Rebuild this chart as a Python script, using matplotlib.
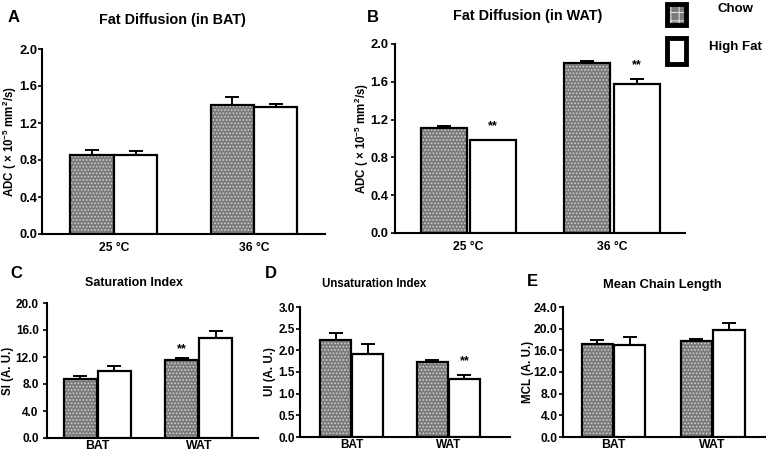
import matplotlib
matplotlib.use("Agg")
import matplotlib.pyplot as plt
import numpy as np
from matplotlib.patches import Rectangle

plt.rcParams['font.family'] = ['Liberation Sans', 'DejaVu Sans']
plt.rcParams['font.weight'] = 'bold'
plt.rcParams['mathtext.fontset'] = 'custom'
plt.rcParams['mathtext.rm'] = 'Liberation Sans:bold'
plt.rcParams['mathtext.it'] = 'Liberation Sans:bold'
plt.rcParams['mathtext.bf'] = 'Liberation Sans:bold'
plt.rcParams['hatch.linewidth'] = 0.8

# ---------------- data ----------------
temps = ["25 °C", "36 °C"]
tissues = ["BAT", "WAT"]
series = ["Chow", "High Fat"]

bat_adc_chow = [0.85, 1.40]
bat_adc_chow_err = [0.06, 0.08]
bat_adc_hf = [0.85, 1.37]
bat_adc_hf_err = [0.05, 0.04]

wat_adc_chow = [1.11, 1.80]
wat_adc_chow_err = [0.02, 0.015]
wat_adc_hf = [0.98, 1.58]
wat_adc_hf_err = [0.005, 0.05]

si_chow = [8.7, 11.6]
si_chow_err = [0.5, 0.25]
si_hf = [9.9, 14.8]
si_hf_err = [0.8, 1.0]

ui_chow = [2.24, 1.73]
ui_chow_err = [0.15, 0.05]
ui_hf = [1.92, 1.35]
ui_hf_err = [0.23, 0.09]

mcl_chow = [17.1, 17.8]
mcl_chow_err = [0.8, 0.3]
mcl_hf = [17.0, 19.7]
mcl_hf_err = [1.5, 1.3]

# significance markers: (series index, category index)
sig_B = [(1, 0), (1, 1)]
sig_C = [(0, 1)]
sig_D = [(1, 1)]

# ---------------- style ----------------
CHOW_FACE = '#7a7a7a'
CHOW_HATCH = '#cfcfcf'

W, H = 766, 455
fig = plt.figure(figsize=(W / 100, H / 100), dpi=100)


def px_axes(l, r, t, b):
    ax = fig.add_axes([l / W, 1 - b / H, (r - l) / W, (b - t) / H])
    ax._pxw = r - l
    return ax


def draw_panel(ax, cats, chow, chow_err, hf, hf_err, ylim, yticks, fmt,
               xlim, width, offset, ylabel, sig=None, sig_off=0.08,
               ylab_size=8.3, tick_size=9, xtick_size=8.7, xpad=6, ylab_dx=32,
               ypad=1.0):
    x = np.arange(len(cats))
    vals = [chow, hf]
    errs = [chow_err, hf_err]
    for s, sgn in enumerate([-1, 1]):
        xs = x + sgn * offset
        if s == 0:
            ax.bar(xs, vals[s], width, color=CHOW_FACE, edgecolor=CHOW_HATCH,
                   hatch='.....', linewidth=0, zorder=2)
            ax.bar(xs, vals[s], width, facecolor='none', edgecolor='black',
                   linewidth=1.6, zorder=3)
        else:
            ax.bar(xs, vals[s], width, facecolor='white', edgecolor='black',
                   linewidth=1.6, zorder=3)
        ax.errorbar(xs, vals[s], yerr=[np.zeros(len(cats)), errs[s]], fmt='none',
                    ecolor='black', elinewidth=1.4, capsize=5, capthick=1.4, zorder=1)
    if sig:
        rng = ylim[1] - ylim[0]
        for s, i in sig:
            top = vals[s][i] + errs[s][i]
            ax.text(x[i] + (-1 if s == 0 else 1) * offset, top + sig_off * rng, '**',
                    ha='center', va='center', fontsize=9, fontweight='bold')
    ax.set_xlim(*xlim)
    ax.set_ylim(*ylim)
    ax.set_xticks(x)
    ax.set_xticklabels(cats, fontsize=xtick_size, fontweight='bold')
    ax.set_yticks(yticks)
    ax.set_yticklabels([fmt.format(v) for v in yticks], fontsize=tick_size,
                       fontweight='bold')
    ax.tick_params(axis='x', length=0, pad=xpad)
    ax.tick_params(axis='y', length=3, width=1.2, pad=ypad, direction='out')
    for sp in ['top', 'right']:
        ax.spines[sp].set_visible(False)
    for sp in ['left', 'bottom']:
        ax.spines[sp].set_linewidth(1.5)
    ax.set_ylabel(ylabel, fontsize=ylab_size, fontweight='bold')
    ax.yaxis.label.set_va('center')
    ax.yaxis.set_label_coords(-ylab_dx / ax._pxw, 0.5)


adc_label = 'ADC ( \u00d7 10$^{-5}$ mm$^{2}$/s)'

axA = px_axes(42, 325, 49, 234)
draw_panel(axA, temps, bat_adc_chow, bat_adc_chow_err, bat_adc_hf, bat_adc_hf_err,
           (0, 2.0), np.arange(0, 2.01, 0.4), '{:.1f}', (-0.513, 1.507), 0.31, 0.155,
           adc_label, tick_size=9.3, ylab_dx=32, ypad=0.5)

axB = px_axes(395, 685, 44, 233)
draw_panel(axB, temps, wat_adc_chow, wat_adc_chow_err, wat_adc_hf, wat_adc_hf_err,
           (0, 2.0), np.arange(0, 2.01, 0.4), '{:.1f}', (-0.511, 1.509), 0.32, 0.172,
           adc_label, sig=sig_B, sig_off=0.075, tick_size=9.3, ylab_dx=33, ypad=2.0)

axC = px_axes(47, 258, 303, 438)
draw_panel(axC, tissues, si_chow, si_chow_err, si_hf, si_hf_err,
           (0, 20.0), np.arange(0, 20.01, 4), '{:.1f}', (-0.497, 1.582), 0.325, 0.1675,
           'SI (A. U.)', sig=sig_C, sig_off=0.065, tick_size=8.5, xtick_size=8.8,
           xpad=1.5, ylab_dx=39, ypad=3.0)

axD = px_axes(300, 510, 307, 437)
draw_panel(axD, tissues, ui_chow, ui_chow_err, ui_hf, ui_hf_err,
           (0, 3.0), np.arange(0, 3.01, 0.5), '{:.1f}', (-0.535, 1.64), 0.32, 0.167,
           'UI (A. U.)', sig=sig_D, sig_off=0.1, tick_size=8.5, xtick_size=8.5,
           xpad=1.5, ylab_dx=30, ypad=0.8)

axE = px_axes(563, 765, 307, 437)
draw_panel(axE, tissues, mcl_chow, mcl_chow_err, mcl_hf, mcl_hf_err,
           (0, 24.0), np.arange(0, 24.01, 4), '{:.1f}', (-0.51, 1.53), 0.318, 0.164,
           'MCL (A. U.)', tick_size=8.7, xtick_size=8.8, xpad=1.5, ylab_dx=35,
           ypad=1.0)


def ftext(xp, yp, s, size, ha='center'):
    fig.text(xp / W, 1 - yp / H, s, ha=ha, va='center', fontsize=size, fontweight='bold')


# titles
ftext(172, 20, 'Fat Diffusion (in BAT)', 10.4)
ftext(528, 16, 'Fat Diffusion (in WAT)', 10.4)
ftext(134, 283, 'Saturation Index', 9.0)
ftext(374, 284, 'Unsaturation Index', 8.3)
ftext(662, 285, 'Mean Chain Length', 9.3)

# panel letters
ftext(14, 17, 'A', 12)
ftext(373, 17, 'B', 12)
ftext(16, 274, 'C', 12)
ftext(271, 274, 'D', 12)
ftext(532, 282, 'E', 12)

# legend (figure level)
r1 = Rectangle((667 / W, 1 - 25 / H), 19 / W, 21 / H, transform=fig.transFigure,
               facecolor=CHOW_FACE, edgecolor='#dddddd', linewidth=0, hatch='++')
r1b = Rectangle((667 / W, 1 - 25 / H), 19 / W, 21 / H, transform=fig.transFigure,
                facecolor='none', edgecolor='black', linewidth=3.5)
r2 = Rectangle((667 / W, 1 - 64 / H), 19 / W, 26 / H, transform=fig.transFigure,
               facecolor='white', edgecolor='black', linewidth=3.5)
for r in (r1, r1b, r2):
    fig.add_artist(r)
ftext(735, 9, series[0], 9.5)
ftext(735, 47, series[1], 9.5)

fig.savefig('out.png', dpi=100)
